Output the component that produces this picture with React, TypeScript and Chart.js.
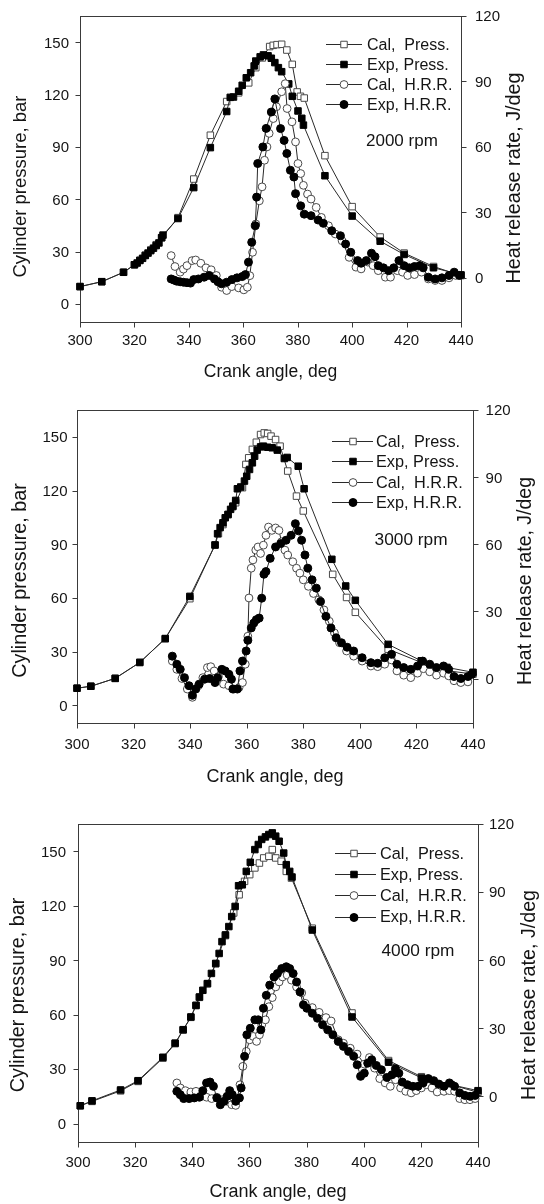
import { useEffect, useRef } from 'react';
import { Chart, registerables } from 'chart.js';

Chart.register(...registerables);

type Pt = [number, number];

// ---- tick labels / categories ----
const X_TICKS = [300, 320, 340, 360, 380, 400, 420, 440];
const P_TICKS = [0, 30, 60, 90, 120, 150];
const H_TICKS = [0, 30, 60, 90, 120];
const SERIES_LABELS = ['Cal,  Press.', 'Exp, Press.', 'Cal,  H.R.R.', 'Exp, H.R.R.'];
const RPM_LABELS = ['2000 rpm', '3000 rpm', '4000 rpm'];
const X_TITLE = 'Crank angle, deg';
const Y_TITLE = 'Cylinder pressure, bar';
const Y2_TITLE = 'Heat release rate, J/deg';

// ---- 2000 rpm ----
const p2000CalPress: Pt[] = [
  [300, 10], [308, 12.8], [316, 18.2], [320, 22.5], [322, 25], [324, 28], [326, 31], [328, 34], [330, 38],
  [336, 49.5], [341.8, 71.6], [347.9, 96.7], [353.9, 116], [358.3, 121], [362, 126.7], [364.6, 135.4],
  [367, 141], [369.7, 147.5], [371, 148.2], [372.4, 148.6], [374.1, 148.8], [376, 145.5], [378, 137.3],
  [379.8, 121.5], [381, 119], [382.4, 118], [390, 85], [400, 55.8], [410.3, 38.4], [419.1, 29.2],
  [429.9, 21.5], [440, 16.3],
];
const p2000ExpPress: Pt[] = [
  [300, 10], [308, 12.8], [316, 18.2], [320, 22.5], [321, 23.5], [322, 25], [323, 26.2], [324, 27.8],
  [325, 29.2], [326, 30.6], [327, 32], [328, 33.5], [329, 35], [330, 38], [330.5, 39.5], [336, 49],
  [341.8, 66.7], [347.9, 89.6], [353.9, 110.3], [355.2, 118.4], [356.4, 118.6], [358.3, 121.9],
  [359.6, 125.3], [361.1, 129.6], [362.7, 132.5], [364, 136.4], [364.6, 139.2], [366.2, 141.6],
  [367.4, 142.7], [369.1, 142.2], [370.3, 140.8], [371.6, 138.3], [372.9, 135.4], [374.1, 133.1],
  [376.7, 126.1], [378, 119], [380.1, 110.6], [381.5, 106.4], [382.1, 102.5], [390, 73.5], [400, 50.4],
  [410.3, 36], [419.1, 28.4], [429.9, 20.8], [440, 16.7],
];
const p2000CalHRR: Pt[] = [
  [333.5, 10.2], [334.9, 5.2], [336.8, 2.6], [338, 4], [339.3, 5.6], [341.2, 7.9], [342.5, 8.2],
  [344.4, 6.7], [346.3, 4.6], [348.2, 3.7], [350.1, 1.1], [352, -4.3], [353.9, -5.8], [355.8, -4],
  [358.3, -4.6], [360.2, -5.5], [361.5, -4.3], [362.4, 1], [363.4, 11.7], [364.6, 24.7], [365.9, 35.3],
  [366.9, 41.7], [367.8, 53.9], [368.7, 60], [369.5, 66.2], [371, 73], [372.2, 78.4], [374.1, 85.3],
  [375.4, 89], [376.1, 77.6], [377.9, 71.5], [379.2, 62.3], [380.1, 52.4], [381.1, 47.8], [382.1, 42.4],
  [383.6, 38.4], [384.9, 36.1], [386.8, 32.3], [388.7, 27.7], [391.3, 23.9], [393.8, 20.1], [396.3, 17],
  [398.9, 9.4], [401.4, 4.9], [403.3, 4.1], [405.8, 7.2], [407.7, 5.6], [409.6, 3.3], [412.2, 0.3],
  [414.1, 0.3], [416.6, 3.3], [418.5, 2.6], [420.4, 1.1], [422.9, 1.5], [425.5, 2.6], [428, -0.5],
  [430.5, -1.2], [433, -1.2], [435.6, 0], [438.1, 1.1],
];
const p2000ExpHRR: Pt[] = [
  [333.5, -0.5], [334.5, -1], [335.5, -1.5], [336.8, -1.8], [338, -2], [339.3, -2.2], [340.6, -2.4],
  [341.8, -0.8], [343.5, -0.5], [345.6, 0.3], [347.5, 1.1], [349.4, -0.5], [350.7, -1.8], [352, -2.7],
  [353.9, -2], [355.8, -0.8], [357.7, 0], [359.6, 0.6], [360.8, 1.5], [361.9, 7.2], [363.1, 16.3],
  [364.4, 23.9], [364.9, 37], [365.3, 52.4], [367.2, 60], [368.4, 68.5], [370.3, 76], [371.6, 82],
  [373.7, 68.4], [375, 63], [376, 57], [377.3, 49.3], [378.6, 46.2], [379.2, 38.6], [381.1, 33],
  [382.4, 29.2], [384.9, 28.5], [387.5, 26.5], [389.4, 25], [392.5, 21.6], [395.7, 19.3], [397.6, 15.5],
  [399.5, 11.7], [402, 7.9], [403.3, 6.7], [405.2, 7.9], [407.1, 11.3], [408.4, 9.7], [409.6, 5.6],
  [411.5, 4.6], [413.4, 3.3], [415.3, 4.6], [417.2, 7.9], [419.1, 5.6], [421, 4.6], [422.9, 5.2],
  [424.8, 5.6], [426.1, 4.6], [428, 0.3], [430.5, -0.5], [433, 0], [435.6, 1.1], [437.5, 2.6], [439.4, 1.1],
];

// ---- 3000 rpm ----
const p3000CalPress: Pt[] = [
  [300, 9.6], [304.9, 10.7], [313.5, 15.1], [322.2, 24], [331.2, 37.3], [339.9, 59.6], [348.8, 89.6],
  [350, 95.9], [351.6, 101], [353.4, 106.5], [355.1, 111], [356.1, 113.2], [358.5, 121.6], [359.7, 134.6],
  [360.7, 138.3], [362, 143], [363.4, 147], [364.9, 151.3], [366.2, 152.2], [367.4, 151.9], [368.6, 150.4],
  [370.2, 148.5], [371.8, 144.8], [374.5, 130.9], [377.6, 116.9], [380, 108.6], [390.4, 73.2],
  [395.3, 60.3], [398.4, 52], [410, 31.4], [421.7, 24], [430.8, 19.4], [440, 17.5],
];
const p3000ExpPress: Pt[] = [
  [300, 9.6], [304.9, 10.7], [313.5, 15.1], [322.2, 24], [331.2, 37.3], [339.9, 60.9], [348.8, 89.6],
  [349.7, 95.9], [350.6, 99.3], [351.6, 102], [352.4, 104.8], [353.4, 106.7], [354.3, 109.5],
  [355.1, 111.3], [356.1, 114.5], [356.7, 121], [357.9, 122], [359.2, 125.3], [360, 128], [361, 131.8],
  [362, 135.5], [362.8, 139.2], [363.7, 142.6], [364.9, 144.4], [365.9, 144.8], [367.4, 144.2],
  [369, 143.9], [370.8, 142.6], [373.3, 137.9], [374.3, 138.5], [378.2, 133.6], [380.3, 121],
  [390.1, 81.6], [395, 66.7], [398.4, 58.7], [410, 34.1], [421.7, 24.9], [430.8, 21.2], [440, 18.5],
];
const p3000CalHRR: Pt[] = [
  [333.7, 7.8], [335.3, 4.1], [337.1, 0], [339, -4.7], [340.8, -8.4], [342.9, -3.2], [344.5, 0.4],
  [346.1, 4.9], [347.3, 5.3], [348.5, 3.4], [350, 0.9], [351.8, -2.5], [353.7, -3.2], [355.5, -4.7],
  [357.3, -4], [358.5, -1.8], [359.5, 6.4], [360.4, 18.9], [360.8, 36], [361.6, 49.3], [362.2, 53],
  [363.2, 57.4], [364, 58.8], [364.9, 55.9], [365.9, 59.6], [366.8, 64], [367.7, 67.7], [368.9, 66.2],
  [370.2, 67.3], [371.4, 66.2], [372.3, 61.1], [373.5, 57.4], [374.5, 55.2], [376.3, 52.2], [377.6, 49.3],
  [378.8, 47.1], [380, 44.1], [381.8, 41.2], [383.6, 38], [385.5, 35.2], [387.3, 30.7], [389.2, 25.6],
  [391, 20.4], [392.8, 16], [395.3, 12.3], [397.8, 10], [400.8, 7.8], [403.9, 5.6], [406.3, 5.3],
  [408.8, 6.4], [411.2, 8.3], [413.1, 3.4], [415.5, 1.5], [418, 0.4], [420.4, 2.4], [422.5, 4.4],
  [424.7, 3], [427.1, 1.5], [429.6, 2.4], [431.4, 1.2], [433.3, -1], [435.7, -1.8], [438.2, -1.5],
];
const p3000ExpHRR: Pt[] = [
  [333.7, 10], [335.3, 6.4], [336.5, 4.1], [338, 0.4], [339.6, -3.2], [340.8, -7.5], [342, -4.7],
  [343.2, -2.5], [345.1, -0.3], [346.9, 0], [348.8, -1.8], [349.7, 0.4], [351.2, 4.1], [352.4, 3.4],
  [353.7, 1.9], [354.6, -0.3], [355.1, -4.7], [356.7, -4.7], [357.6, 3.4], [358.5, 7.8], [359.8, 12.3],
  [360.4, 17.1], [361.6, 22.6], [362.5, 24.8], [363.4, 26.3], [364.4, 27], [365.3, 35.9], [366.1, 46.6],
  [366.8, 47.8], [368.3, 53.7], [370.2, 58.8], [372, 60.3], [373.9, 61.8], [375.7, 64], [377.2, 69.2],
  [378.3, 66], [379.4, 61.8], [380.6, 55.2], [381.6, 49.3], [383.1, 44.1], [384.6, 40.4], [386.1, 34.4],
  [388, 27.8], [389.8, 22.6], [391.6, 18.2], [393.5, 16], [395.5, 14], [397.8, 12.3], [400.8, 9.3],
  [403.9, 7.1], [406.3, 6.8], [408.8, 9.3], [411.2, 10.8], [413.1, 6.4], [415.5, 4.9], [418, 4.1],
  [420.4, 5.6], [422.2, 7.8], [424.7, 6.4], [427.1, 4.9], [429.6, 5.6], [431.4, 4.1], [433.3, 0.9],
  [435.7, 0], [438.2, 0.9], [439.6, 1.9],
];

// ---- 4000 rpm ----
const p4000CalPress: Pt[] = [
  [300.8, 9.8], [304.9, 12.2], [314.9, 18], [321, 23.2], [329.7, 36], [334, 44], [336.8, 51.5],
  [339.5, 58.5], [341.3, 65], [342.5, 69.5], [345.3, 77], [348.2, 88], [351.6, 103.5], [354.5, 116],
  [356.4, 126], [358.3, 133.4], [360.1, 137.1], [361.9, 140.8], [363.5, 143.5], [365, 146.3],
  [366.8, 147.2], [368, 150.9], [369.2, 146.3], [371.1, 144.5], [372.9, 138.9], [374.7, 135.2],
  [382, 107.6], [395.9, 60.9], [408.7, 34.7], [420.2, 25.8], [430.5, 21.4], [440, 17.2],
];
const p4000ExpPress: Pt[] = [
  [300.8, 9.8], [304.9, 12.5], [314.9, 18.5], [321, 23.6], [329.7, 36.5], [334, 44.3], [336.8, 51.7],
  [339.5, 58.7], [341.3, 65.1], [342.5, 69.7], [343.7, 73.4], [345.3, 77.1], [346.7, 82.7], [348.2, 88.2],
  [349.4, 93.7], [350.4, 100.2], [351.6, 103.9], [352.8, 108.5], [353.8, 114], [355, 119.6], [356.2, 131],
  [357.5, 131.5], [358.9, 138.9], [360.3, 143.9], [361.9, 150.9], [363.1, 153.7], [364.3, 156.5],
  [365.6, 157.9], [366.8, 159.2], [368, 160.1], [369.2, 158.3], [370.4, 155.5], [372, 149], [372.9, 142.6],
  [374.1, 138.9], [374.9, 135.8], [382, 106.6], [395.9, 58.7], [408.7, 33.8], [420.2, 25.1],
  [430.5, 21.4], [440, 18.1],
];
const p4000CalHRR: Pt[] = [
  [334.6, 5.9], [335.8, 3.7], [337.6, 2.5], [339.5, 1.9], [341.3, 2.2], [343.1, 0.4], [345, -0.4],
  [346.8, -1], [348.6, -0.4], [350.5, -1.5], [352.2, -2.2], [353.8, -3.7], [355.2, -4], [356.7, 5.1],
  [357.7, 13.2], [358.9, 19.8], [360.1, 24.9], [361.3, 26.4], [362.5, 24.2], [363.5, 27.1], [364.3, 31.5],
  [365.6, 33.7], [366.8, 39.5], [368, 43.5], [369.2, 48.2], [370.4, 50.4], [371.6, 52.6], [373.2, 53.4],
  [374.7, 51.2], [376.5, 48.2], [378.3, 45.6], [379.5, 41], [382, 39.1], [384.4, 37], [386.8, 34.7],
  [388.6, 33.2], [391.1, 24.9], [392.9, 23.4], [395.3, 21.2], [397.7, 18.6], [400.2, 14.2], [402, 17.1],
  [403.8, 12.4], [405.6, 7.8], [407.5, 5.9], [409.3, 4.4], [411.1, 7.3], [412.9, 3.7], [414.7, 2.2],
  [416.6, 1.5], [418.4, 2.5], [420.2, 3.7], [422, 5.1], [423.9, 3.7], [425.7, 1.9], [428.1, 2.2],
  [430, 2.5], [431.8, 2.2], [433.6, -1], [435.4, -1.5], [437.2, -1.5], [439, -1],
];
const p4000ExpHRR: Pt[] = [
  [334.6, 2.2], [335.8, 0.7], [337, -1], [338.9, -1], [340.7, -0.7], [342.5, -0.4], [343.7, 2.5],
  [345, 5.9], [346.2, 6.3], [347.4, 4.4], [348.6, -0.7], [349.8, -3.7], [351.1, -2.2], [352.2, 0],
  [353.1, 2.5], [354, 0.7], [355.2, -2.2], [356.5, -0.7], [357.1, 3.7], [358.3, 17.6], [359.1, 27.1],
  [360.3, 30], [361.9, 33.7], [363.1, 33.7], [364, 29.3], [364.9, 38.8], [365.9, 44.5], [367.1, 49],
  [368.6, 52.6], [369.8, 54.1], [371.3, 56.3], [372.9, 57.1], [374.1, 56.3], [375.3, 54.1], [376.5, 50.4],
  [377.7, 46], [378.9, 40.3], [380.1, 38.8], [382, 36.6], [383.8, 34.4], [385.6, 31.5], [387.4, 29.3],
  [389.2, 27.1], [391.1, 24.2], [392.9, 22], [394.7, 19.8], [396.5, 17.6], [397.7, 13.9], [398.9, 8.8],
  [400.2, 10.2], [401.4, 14.6], [402.8, 16.1], [404.4, 13.6], [406.2, 11.7], [408.1, 8.3], [409.9, 9.5],
  [411.1, 12.2], [412.3, 10.2], [413.5, 6.3], [415.3, 5.1], [417.2, 4.4], [419, 4.4], [420.8, 5.9],
  [422.6, 7.8], [424.5, 6.9], [426.3, 5.4], [428.1, 4.4], [430, 5.9], [431.8, 4.4], [433.6, 1.5],
  [435.4, 0.4], [437.2, 0], [439, 0.4],
];

const PANEL_SERIES: Pt[][][] = [
  [p2000CalPress, p2000ExpPress, p2000CalHRR, p2000ExpHRR],
  [p3000CalPress, p3000ExpPress, p3000CalHRR, p3000ExpHRR],
  [p4000CalPress, p4000ExpPress, p4000CalHRR, p4000ExpHRR],
];

// ---- layout (canvas-local pixel positions) ----
const FONT = '"Liberation Sans", Arial, Helvetica, sans-serif';
const TEXT = '#141414';
const AXIS = '#3a3a3a';

const LAYOUT = [
  {
    top: 0, height: 400, area: { left: 80, right: 461, top: 16, bottom: 321.5 },
    xTickBase: 345, leftGap: 11, rightGap: 14, tickFont: 15,
    xTitle: { base: 376.5, size: 17.5 },
    yTitle: { cx: 21, cy: 186.5, size: 18.5 },
    y2Title: { cx: 515, cy: 178, size: 19.8 },
    legend: { x1: 326, x2: 362, mx: 344, tx: 367, rows: [44, 64, 84, 104], size: 16 },
    rpm: { x: 366, base: 146, size: 17 },
  },
  {
    top: 400, height: 400, area: { left: 77, right: 473, top: 10, bottom: 323.3 },
    xTickBase: 349.3, leftGap: 9.5, rightGap: 12.6, tickFont: 15,
    xTitle: { base: 381.7, size: 18 },
    yTitle: { cx: 21, cy: 180.5, size: 19.8 },
    y2Title: { cx: 526, cy: 181, size: 19.5 },
    legend: { x1: 332, x2: 373, mx: 353, tx: 376, rows: [41, 61, 82, 102], size: 16.3 },
    rpm: { x: 374.6, base: 145, size: 17.3 },
  },
  {
    top: 800, height: 404, area: { left: 78, right: 478, top: 24, bottom: 341.7 },
    xTickBase: 366.7, leftGap: 12, rightGap: 11, tickFont: 15,
    xTitle: { base: 396.7, size: 18 },
    yTitle: { cx: 19, cy: 195, size: 19.8 },
    y2Title: { cx: 530, cy: 195, size: 19.7 },
    legend: { x1: 335, x2: 376, mx: 354, tx: 380, rows: [53, 74, 95, 116.5], size: 16.3 },
    rpm: { x: 381.5, base: 156, size: 17.3 },
  },
];

const MARKERS = [
  { style: 'rect', filled: false, r: 4.6 },
  { style: 'rect', filled: true, r: 4.6 },
  { style: 'circle', filled: false, r: 3.9 },
  { style: 'circle', filled: true, r: 4.0 },
];
const OPEN_EDGE = '#4a4a4a';

function drawMarker(ctx: CanvasRenderingContext2D, x: number, y: number, m: typeof MARKERS[number]) {
  ctx.save();
  ctx.lineWidth = 1;
  ctx.fillStyle = m.filled ? '#000' : '#fff';
  ctx.strokeStyle = m.filled ? '#000' : OPEN_EDGE;
  ctx.beginPath();
  if (m.style === 'rect') {
    const s = m.r * Math.SQRT1_2;
    ctx.rect(x - s, y - s, 2 * s, 2 * s);
  } else {
    ctx.arc(x, y, m.r, 0, Math.PI * 2);
  }
  ctx.fill();
  ctx.stroke();
  ctx.restore();
}

function makeOverlay(idx: number) {
  const L = LAYOUT[idx];
  return {
    id: 'overlay' + idx,
    beforeDatasetsDraw(chart: any) {
      const { ctx, chartArea: ca, scales } = chart;
      ctx.save();
      ctx.strokeStyle = AXIS;
      ctx.lineWidth = 1;
      ctx.strokeRect(Math.round(ca.left) + 0.5, Math.round(ca.top) + 0.5,
        Math.round(ca.right) - Math.round(ca.left), Math.round(ca.bottom) - Math.round(ca.top));
      ctx.beginPath();
      const bx = Math.round(ca.bottom) + 0.5;
      X_TICKS.forEach((v) => {
        const px = Math.round(scales.x.getPixelForValue(v)) + 0.5;
        ctx.moveTo(px, bx);
        ctx.lineTo(px, bx + 5);
      });
      const lx = Math.round(ca.left) + 0.5;
      P_TICKS.forEach((v) => {
        const py = Math.round(scales.y.getPixelForValue(v)) + 0.5;
        ctx.moveTo(lx, py);
        ctx.lineTo(lx - 5, py);
      });
      const rx = Math.round(ca.right) + 0.5;
      H_TICKS.forEach((v) => {
        const py = Math.round(scales.y2.getPixelForValue(v)) + 0.5;
        ctx.moveTo(rx, py);
        ctx.lineTo(rx + 5, py);
      });
      ctx.stroke();
      ctx.restore();
    },
    afterDraw(chart: any) {
      const { ctx, chartArea: ca, scales } = chart;
      ctx.save();
      ctx.fillStyle = TEXT;
      ctx.font = `${L.tickFont}px ${FONT}`;
      const capHalf = L.tickFont * 0.36;
      ctx.textAlign = 'center';
      ctx.textBaseline = 'alphabetic';
      X_TICKS.forEach((v) => ctx.fillText(String(v), scales.x.getPixelForValue(v), L.xTickBase));
      ctx.textAlign = 'right';
      P_TICKS.forEach((v) => ctx.fillText(String(v), ca.left - L.leftGap, scales.y.getPixelForValue(v) + capHalf));
      ctx.textAlign = 'left';
      H_TICKS.forEach((v) => ctx.fillText(String(v), ca.right + L.rightGap, scales.y2.getPixelForValue(v) + capHalf));

      ctx.textAlign = 'center';
      ctx.font = `${L.xTitle.size}px ${FONT}`;
      ctx.fillText(X_TITLE, (ca.left + ca.right) / 2, L.xTitle.base);
      const rot = (text: string, t: { cx: number; cy: number; size: number }) => {
        ctx.save();
        ctx.translate(t.cx, t.cy);
        ctx.rotate(-Math.PI / 2);
        ctx.font = `${t.size}px ${FONT}`;
        ctx.textAlign = 'center';
        ctx.textBaseline = 'middle';
        ctx.fillText(text, 0, 0);
        ctx.restore();
      };
      rot(Y_TITLE, L.yTitle);
      rot(Y2_TITLE, L.y2Title);

      const lg = L.legend;
      ctx.font = `${lg.size}px ${FONT}`;
      ctx.textAlign = 'left';
      ctx.textBaseline = 'alphabetic';
      SERIES_LABELS.forEach((label, i) => {
        const y = lg.rows[i];
        ctx.strokeStyle = '#2a2a2a';
        ctx.lineWidth = 1;
        ctx.beginPath();
        ctx.moveTo(lg.x1, Math.round(y) + 0.5);
        ctx.lineTo(lg.x2, Math.round(y) + 0.5);
        ctx.stroke();
        drawMarker(ctx, lg.mx, Math.round(y) + 0.5, MARKERS[i]);
        ctx.fillStyle = TEXT;
        ctx.fillText(label, lg.tx, y + lg.size * 0.36);
      });

      ctx.font = `${L.rpm.size}px ${FONT}`;
      ctx.fillText(RPM_LABELS[idx], L.rpm.x, L.rpm.base);
      ctx.restore();
    },
  };
}

function Panel({ idx }: { idx: number }) {
  const ref = useRef<HTMLCanvasElement | null>(null);
  const L = LAYOUT[idx];
  useEffect(() => {
    if (!ref.current) return;
    const series = PANEL_SERIES[idx];
    const datasets = series.map((pts, i) => {
      const m = MARKERS[i];
      return {
        label: SERIES_LABELS[i],
        data: pts.map(([x, y]) => ({ x, y })),
        yAxisID: i < 2 ? 'y' : 'y2',
        borderColor: '#2a2a2a',
        borderWidth: 1,
        tension: 0,
        pointStyle: m.style,
        pointRadius: m.r,
        pointBackgroundColor: m.filled ? '#000' : '#fff',
        pointBorderColor: m.filled ? '#000' : OPEN_EDGE,
        pointBorderWidth: 1,
        order: [3, 2, 1, 0][i],
        clip: false as any,
      };
    });
    const chart = new Chart(ref.current, {
      type: 'line',
      data: { datasets: datasets as any },
      options: {
        responsive: false,
        animation: false,
        devicePixelRatio: 1,
        events: [],
        layout: {
          padding: {
            left: L.area.left,
            right: 544 - L.area.right,
            top: L.area.top,
            bottom: L.height - L.area.bottom,
          },
        },
        plugins: { legend: { display: false }, tooltip: { enabled: false } },
        scales: {
          x: { type: 'linear', min: 300, max: 440, display: false },
          y: { type: 'linear', min: -10, max: 165, display: false, position: 'left' },
          y2: { type: 'linear', min: -20, max: 120, display: false, position: 'right' },
        },
      },
      plugins: [makeOverlay(idx)],
    });
    return () => chart.destroy();
  }, [idx]);
  return (
    <canvas
      ref={ref}
      width={544}
      height={L.height}
      style={{ position: 'absolute', left: 0, top: L.top, width: 544, height: L.height, display: 'block' }}
    />
  );
}

export default function App() {
  return (
    <div style={{ position: 'absolute', left: 0, top: 0, width: 544, height: 1204, background: '#fff', overflow: 'hidden' }}>
      {[0, 1, 2].map((i) => (
        <Panel key={i} idx={i} />
      ))}
    </div>
  );
}
